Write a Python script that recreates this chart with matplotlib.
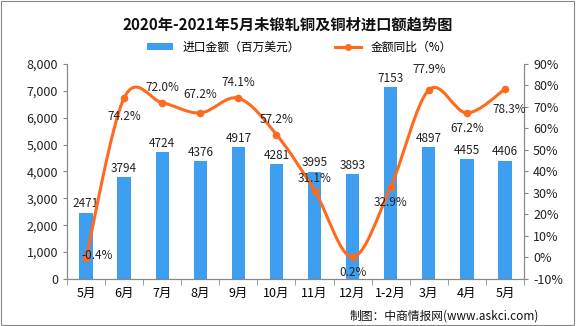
import matplotlib
matplotlib.use("Agg")
import matplotlib.pyplot as plt
from matplotlib.path import Path
from matplotlib.patches import PathPatch, Rectangle
from matplotlib.ticker import FuncFormatter, MultipleLocator
import numpy as np

plt.rcParams['font.family'] = ['Noto Sans CJK SC', 'DejaVu Sans']

categories = ["5月", "6月", "7月", "8月", "9月", "10月", "11月", "12月", "1-2月", "3月", "4月", "5月"]
amount = [2471, 3794, 4724, 4376, 4917, 4281, 3995, 3893, 7153, 4897, 4455, 4406]
yoy = [-0.4, 74.2, 72.0, 67.2, 74.1, 57.2, 31.1, 0.2, 32.9, 77.9, 67.2, 78.3]

bar_color = "#3E9EF0"
line_color = "#FF6A1F"

fig = plt.figure(figsize=(5.76, 3.26), dpi=100)
ax = fig.add_axes([0.1163, 0.1442, 0.7934, 0.6595])
ax2 = ax.twinx()

x = np.arange(len(categories))
bars = ax.bar(x, amount, width=0.35, color=bar_color, zorder=2, label="进口金额（百万美元）")
ax.set_xlim(-0.5, len(categories) - 0.5)
ax.set_ylim(0, 8000)
ax.yaxis.set_major_locator(MultipleLocator(1000))
ax.yaxis.set_major_formatter(FuncFormatter(lambda v, p: f"{int(v):,}"))
ax2.set_ylim(-10, 90)
ax2.yaxis.set_major_locator(MultipleLocator(10))
ax2.yaxis.set_major_formatter(FuncFormatter(lambda v, p: f"{int(v)}%"))

for a in (ax, ax2):
    a.spines["top"].set_visible(False)
    a.spines["left"].set_color("#888888")
    a.spines["right"].set_color("#888888")
    a.spines["bottom"].set_color("#888888")
    a.tick_params(axis="y", labelsize=9, colors="#222222", length=3, color="#888888")

ax.set_xticks(x)
ax.set_xticklabels(categories, fontsize=9)
ax.set_xticks(np.arange(-0.5, len(categories), 1), minor=True)
ax.tick_params(axis="x", which="major", length=0, pad=6)
ax.tick_params(axis="x", which="minor", length=4, color="#888888")

# bar labels
for xi, v in zip(x, amount):
    ax.text(xi, v + 80, f"{v}", ha="center", va="bottom", fontsize=8.5, color="#222222", zorder=4)

# smooth line via cubic Bezier (Catmull-Rom control points)
pts = np.column_stack([x, yoy]).astype(float)
verts = [tuple(pts[0])]
codes = [Path.MOVETO]
n = len(pts)
for i in range(n - 1):
    p0 = pts[i - 1] if i > 0 else pts[i]
    p1 = pts[i]
    p2 = pts[i + 1]
    p3 = pts[i + 2] if i + 2 < n else pts[i + 1]
    c1 = p1 + (p2 - p0) / 6.0
    c2 = p2 - (p3 - p1) / 6.0
    verts += [tuple(c1), tuple(c2), tuple(p2)]
    codes += [Path.CURVE4] * 3
path = Path(verts, codes)
ax2.add_patch(PathPatch(path, facecolor="none", edgecolor=line_color, lw=2.2, zorder=3))
ax2.plot(x, yoy, "o", color=line_color, ms=4.5, zorder=4)
ax2.set_zorder(ax.get_zorder() + 1)
ax2.patch.set_visible(False)

offsets = [(8, 2), (0, -13), (0, 11), (0, 13), (0, 11), (0, 11), (0, 9), (0, -11), (0, -11), (0, 15), (0, -11), (3, -15)]
for xi, v, (dx, dy) in zip(x, yoy, offsets):
    ax2.annotate(f"{v:.1f}%", (xi, v), xytext=(dx, dy), textcoords="offset points",
                 ha="center", va="center", fontsize=8.5, color="#222222", zorder=5)

# legend
line_handle, = ax2.plot([], [], "-o", color=line_color, lw=2.2, ms=4, label="金额同比（%）")
leg = fig.legend(handles=[bars, line_handle], labels=["进口金额（百万美元）", "金额同比（%）"],
                 loc="center", bbox_to_anchor=(0.52, 0.855), ncol=2, frameon=False,
                 fontsize=8.5, handlelength=2.2, columnspacing=3.0, handleheight=0.5)

fig.text(0.5, 0.925, "2020年-2021年5月未锻轧铜及铜材进口额趋势图", ha="center", va="center",
         fontsize=11, fontweight="bold", color="#111111")
fig.text(0.935, 0.03, "制图：中商情报网(www.askci.com)", ha="right", va="center", fontsize=8.5, color="#111111")

fig.patches.append(Rectangle((0.002, 0.003), 0.995, 0.994, transform=fig.transFigure,
                             fill=False, edgecolor="#888888", lw=0.8))

fig.savefig("out.png", dpi=100)
